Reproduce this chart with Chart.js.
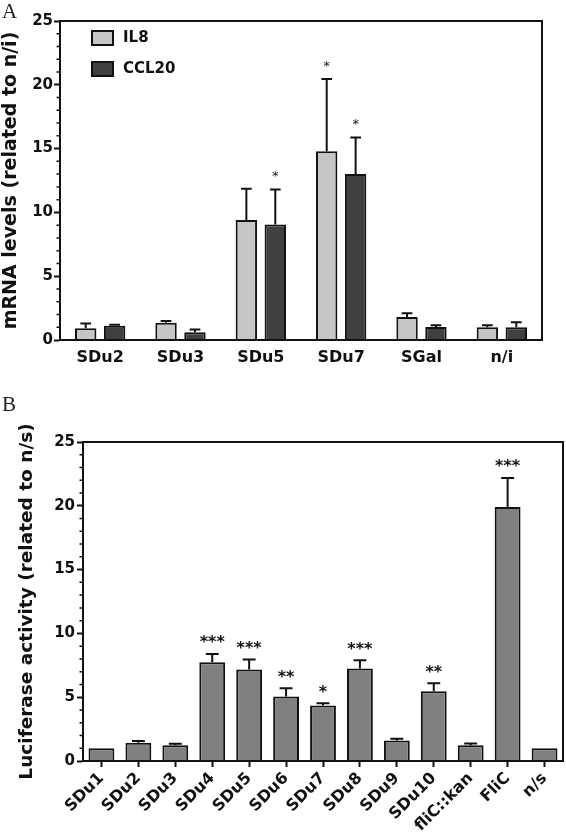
<!DOCTYPE html>
<html><head><meta charset="utf-8">
<script src="https://cdn.jsdelivr.net/npm/chart.js@4/dist/chart.umd.min.js"></script>
<style>
html,body{margin:0;padding:0;background:#fff;width:566px;height:838px;overflow:hidden}
.panel{position:absolute;left:0;width:566px}
.lbl{position:absolute;left:2px;font-family:'Liberation Serif','Times New Roman',serif;font-size:21px;color:#222;line-height:1}
</style></head><body>
<div class="panel" style="top:0;height:380px"><canvas id="cA" width="566" height="380"></canvas></div>
<div class="panel" style="top:380px;height:458px"><canvas id="cB" width="566" height="458"></canvas></div>
<div class="lbl" style="top:1px">A</div>
<div class="lbl" style="top:394px">B</div>
<script>
// ---- Panel A data ----
const catsA = ['SDu2', 'SDu3', 'SDu5', 'SDu7', 'SGal', 'n/i'];
const il8 = [0.92, 1.36, 9.4, 14.8, 1.8, 1.0];
const il8Sem = [0.38, 0.12, 2.46, 5.65, 0.3, 0.16];
const il8Sig = ['', '', '', '*', '', ''];
const ccl20 = [1.12, 0.6, 9.06, 13.0, 1.02, 1.0];
const ccl20Sem = [0.08, 0.22, 2.74, 2.87, 0.14, 0.4];
const ccl20Sig = ['', '', '*', '*', '', ''];
const ticksA = [0, 5, 10, 15, 20, 25];

// ---- Panel B data ----
const catsB = ['SDu1', 'SDu2', 'SDu3', 'SDu4', 'SDu5', 'SDu6', 'SDu7', 'SDu8', 'SDu9', 'SDu10', 'fliC::kan', 'FliC', 'n/s'];
const luc = [1.0, 1.44, 1.24, 7.74, 7.17, 5.05, 4.35, 7.25, 1.61, 5.47, 1.24, 19.91, 1.0];
const lucSem = [0, 0.12, 0.12, 0.65, 0.78, 0.65, 0.18, 0.65, 0.13, 0.63, 0.13, 2.27, 0];
const lucSig = ['', '', '', '***', '***', '**', '*', '***', '', '**', '', '***', ''];
const ticksB = [0, 5, 10, 15, 20, 25];

const FONT = "'DejaVu Sans', 'Liberation Sans', sans-serif";
const INK = '#111';

const panelPlugin = {
  id: 'panel',
  afterDatasetsDraw(chart, args, opts) {
    const ctx = chart.ctx, ca = chart.chartArea, y = chart.scales.y;
    ctx.save();
    // error bars + significance stars
    chart.data.datasets.forEach((ds, di) => {
      const meta = chart.getDatasetMeta(di);
      meta.data.forEach((bar, i) => {
        const v = ds.data[i], sem = ds.sem[i];
        const x = bar.x;
        let top = y.getPixelForValue(v);
        if (sem > 0) {
          const ye = y.getPixelForValue(v + sem);
          const hw = bar.width / 4;
          ctx.strokeStyle = INK; ctx.lineWidth = 2; ctx.lineCap = 'butt';
          ctx.beginPath();
          ctx.moveTo(x, top); ctx.lineTo(x, ye);
          ctx.moveTo(x - hw, ye); ctx.lineTo(x + hw, ye);
          ctx.stroke();
          top = ye;
        }
        const s = ds.sig[i];
        if (s) {
          ctx.font = opts.starFont; ctx.fillStyle = INK;
          ctx.textAlign = 'center'; ctx.textBaseline = 'alphabetic';
          ctx.fillText(s, x, top - opts.starGap + opts.starSize * 0.59);
        }
      });
    });
    // minor ticks on the value axis
    ctx.strokeStyle = INK; ctx.lineWidth = 1.5;
    ctx.beginPath();
    for (let v = Math.ceil(y.min); v <= y.max; v++) {
      if (v % 5 === 0) continue;
      const py = y.getPixelForValue(v);
      ctx.moveTo(ca.left - 3.5, py); ctx.lineTo(ca.left, py);
    }
    ctx.stroke();
    // frame
    ctx.lineWidth = 2;
    ctx.strokeRect(ca.left, ca.top, ca.right - ca.left, ca.bottom - ca.top);
    // legend inside plot
    if (opts.legend) {
      chart.data.datasets.forEach((ds, di) => {
        const bx = ca.left + 32, by = ca.top + 10 + di * 31;
        ctx.fillStyle = ds.backgroundColor;
        ctx.fillRect(bx, by, 21, 14);
        ctx.strokeStyle = INK; ctx.lineWidth = 2;
        ctx.strokeRect(bx, by, 21, 14);
        ctx.fillStyle = INK; ctx.font = 'bold 15px ' + FONT;
        ctx.textAlign = 'left'; ctx.textBaseline = 'middle';
        ctx.fillText(ds.label, bx + 31, by + 7.5);
      });
    }
    ctx.restore();
  }
};

function yScale(width, title, titleSize, titlePad, ticks, labelPad) {
  return {
    min: 0, max: 25,
    afterBuildTicks: (s) => { s.ticks = ticks.map(v => ({ value: v })); },
    afterFit: (s) => { s.width = width; },
    grid: { drawOnChartArea: false, drawTicks: true, tickLength: 6, tickWidth: 2, color: INK },
    border: { display: true, width: 2, color: INK },
    ticks: { padding: labelPad, color: INK, font: { family: FONT, size: 15, weight: 'bold' } },
    title: { display: true, text: title, color: INK, padding: { top: titlePad, bottom: 0 },
      font: { family: FONT, size: titleSize, weight: 'bold' } }
  };
}

new Chart(document.getElementById('cA'), {
  type: 'bar',
  data: {
    labels: catsA,
    datasets: [
      { label: 'IL8', data: il8, sem: il8Sem, sig: il8Sig, backgroundColor: '#c6c6c6',
        borderColor: INK, borderWidth: 2, categoryPercentage: 0.72, barPercentage: 0.74 },
      { label: 'CCL20', data: ccl20, sem: ccl20Sem, sig: ccl20Sig, backgroundColor: '#404040',
        borderColor: INK, borderWidth: 2, categoryPercentage: 0.72, barPercentage: 0.74 }
    ]
  },
  options: {
    responsive: false, animation: false,
    layout: { padding: { left: 0, right: 24, top: 21, bottom: 0 } },
    plugins: { legend: { display: false }, tooltip: { enabled: false },
      panel: { legend: true, starFont: '13px ' + FONT, starSize: 13, starGap: 17 } },
    scales: {
      x: {
        afterFit: (s) => { s.height = 40; },
        grid: { display: false, drawTicks: false },
        border: { display: true, width: 2, color: INK },
        ticks: { padding: 8, color: INK, font: { family: FONT, size: 16, weight: 'bold' } }
      },
      y: yScale(60, 'mRNA levels (related to n/i)', 19, 0, ticksA, 1)
    }
  },
  plugins: [panelPlugin]
});

new Chart(document.getElementById('cB'), {
  type: 'bar',
  data: {
    labels: catsB,
    datasets: [
      { label: 'Luciferase', data: luc, sem: lucSem, sig: lucSig, backgroundColor: '#808080',
        borderColor: INK, borderWidth: 2, categoryPercentage: 1.0, barPercentage: 0.7 }
    ]
  },
  options: {
    responsive: false, animation: false,
    layout: { padding: { left: 0, right: 3, top: 62, bottom: 0 } },
    plugins: { legend: { display: false }, tooltip: { enabled: false },
      panel: { legend: false, starFont: 'bold 16px ' + FONT, starSize: 16, starGap: 16 } },
    scales: {
      x: {
        afterFit: (s) => { s.height = 77; },
        grid: { drawOnChartArea: false, drawTicks: true, tickLength: 6, tickWidth: 2, color: INK, offset: false },
        border: { display: true, width: 2, color: INK },
        ticks: { padding: 2, minRotation: 45, maxRotation: 45, color: INK,
          font: { family: FONT, size: 16, weight: 'bold' } }
      },
      y: yScale(83, 'Luciferase activity (related to n/s)', 18.5, 16, ticksB, 2)
    }
  },
  plugins: [panelPlugin]
});
</script>
</body></html>
